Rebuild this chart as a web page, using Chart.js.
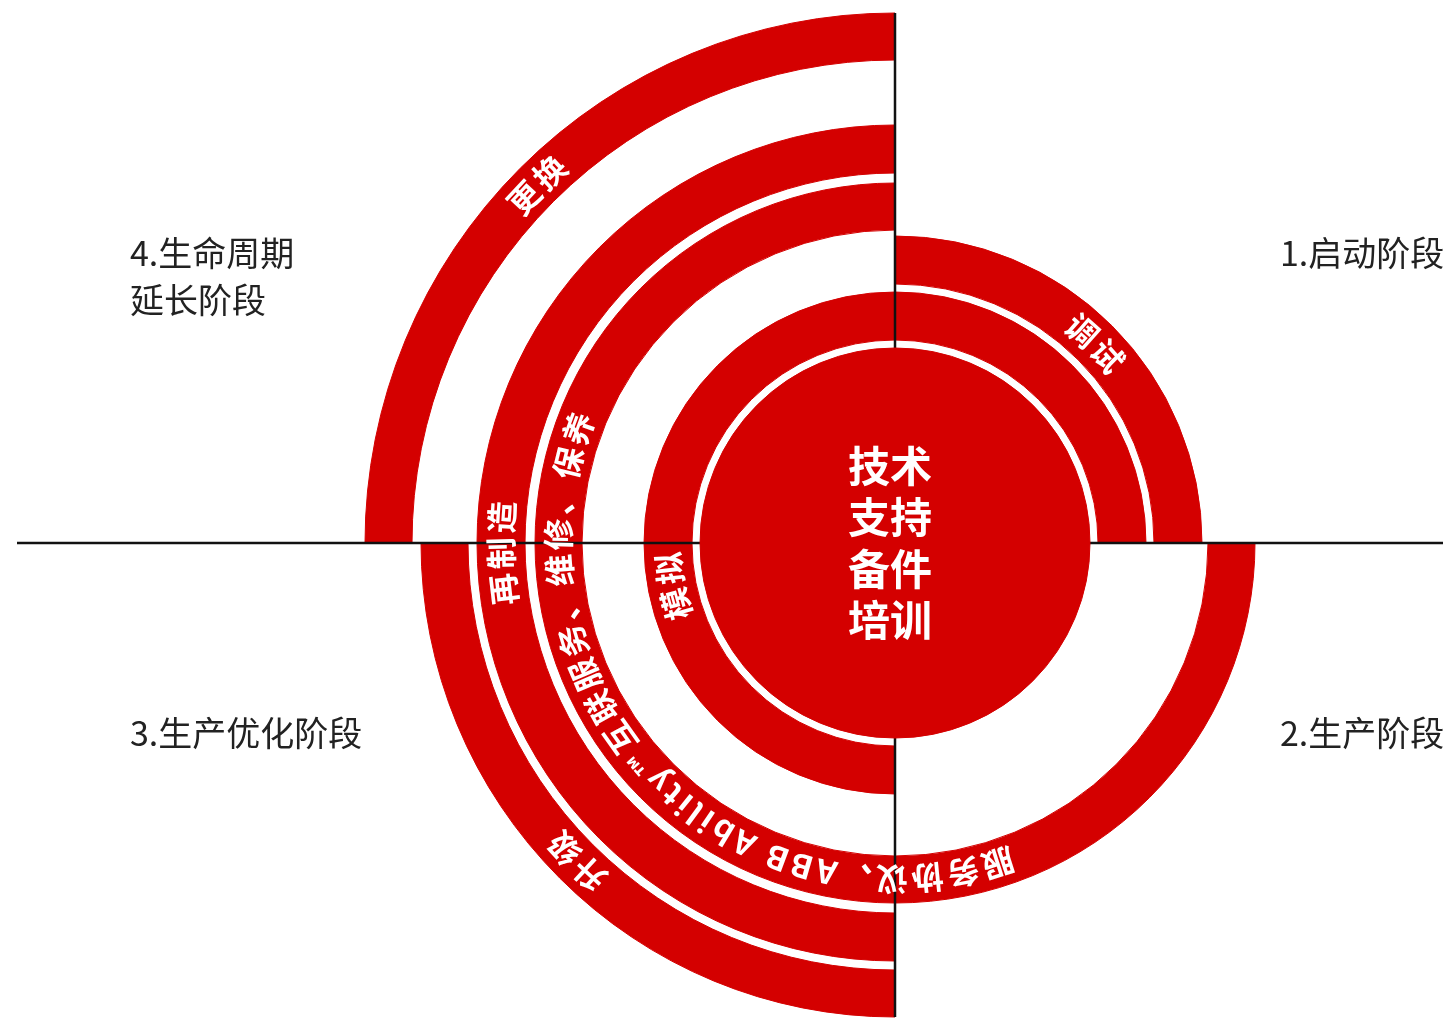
<!DOCTYPE html>
<html><head><meta charset="utf-8">
<script src="https://cdn.jsdelivr.net/npm/chart.js@4.4.1/dist/chart.umd.min.js"></script>
<style>html,body{margin:0;padding:0;background:#fff;}canvas{display:block;}</style>
</head><body>
<canvas id="c" width="1443" height="1019"></canvas>
<script>
// ---- data ----
const stages = ['1.启动阶段', '2.生产阶段', '3.生产优化阶段', '4.生命周期\n延长阶段'];
const stageShare = [1, 1, 1, 1];               // each lifecycle stage = one quarter, clockwise from 12 o'clock
const ringLabels = ['更换', '升级', '再制造', '服务协议、ABB Ability™互联服务、维修、保养', '调试', '模拟', '技术\n支持\n备件\n培训'];
const coverReplace   = [0, 0, 0, 1];
const coverUpgrade   = [0, 0, 1, 0];
const coverReman     = [0, 0, 1, 1];
const coverService   = [0, 1, 1, 1];
const coverCommission= [1, 0, 0, 0];
const coverSimulation= [1, 0, 1, 1];
const coverSupport   = [1, 1, 1, 1];

// ---- style / layout ----
const RED = '#D40000';
const CLEAR = 'rgba(0,0,0,0)';
const FONT = '"Noto Sans CJK SC", "Noto Sans", sans-serif';
const colorsFor = c => c.map(v => v ? RED : CLEAR);

// rings from outside to inside (weights = pixel thickness)
const rings = [
  { label: ringLabels[0], cover: coverReplace,    weight: 47, angle: 315 },
  { gap: 9 },
  { label: ringLabels[1], cover: coverUpgrade,    weight: 47, angle: 225 },
  { gap: 9 },
  { label: ringLabels[2], cover: coverReman,      weight: 48, angle: 268.5 },
  { gap: 10 },
  { label: ringLabels[3], cover: coverService,    weight: 47, angle: 226 },
  { gap: 6 },
  { label: ringLabels[4], cover: coverCommission, weight: 48, angle: 45 },
  { gap: 8 },
  { label: ringLabels[5], cover: coverSimulation, weight: 48, angle: 259 },
  { gap: 8 },
  { label: ringLabels[6], cover: coverSupport,    weight: 195, center: true }
];
const DISC = rings.length - 1;

const datasets = rings.map((r, i) => r.gap ? {
  data: stageShare, backgroundColor: CLEAR, borderWidth: 0, weight: r.gap, clip: false
} : {
  label: r.label, data: stageShare, backgroundColor: colorsFor(r.cover), borderColor: colorsFor(r.cover),
  borderWidth: 1, weight: r.weight, clip: false, order: i === DISC ? -1 : 0
});

function drawArcText(ctx, text, cx, cy, R, angleDeg, font, spacing) {
  ctx.save();
  ctx.font = font;
  ctx.fillStyle = '#fff';
  ctx.textAlign = 'center';
  ctx.textBaseline = 'middle';
  const chars = Array.from(text);
  const widths = chars.map(ch => ctx.measureText(ch).width);
  const total = widths.reduce((s, w) => s + w, 0) + spacing * (chars.length - 1);
  let pos = -total / 2;
  const a0 = angleDeg * Math.PI / 180;
  chars.forEach((ch, i) => {
    const mid = pos + widths[i] / 2;
    const th = a0 + mid / R;
    ctx.save();
    ctx.translate(cx + R * Math.sin(th), cy - R * Math.cos(th));
    ctx.rotate(th);
    if (ch === '™') { ctx.font = font.replace(/\d+px/, m => Math.round(parseInt(m) * 0.8) + 'px'); }
    ctx.fillText(ch, 0, 0);
    ctx.restore();
    pos += widths[i] + spacing;
  });
  ctx.restore();
}

const decor = {
  id: 'decor',
  beforeDatasetDraw(chart, args) {
    if (args.index !== DISC) return;
    const disc = chart.getDatasetMeta(DISC).data[0];
    const cx = disc.x, cy = disc.y;
    const top = chart.getDatasetMeta(0).data[0].outerRadius;
    const bottom = chart.getDatasetMeta(2).data[0].outerRadius;
    const ctx = chart.ctx;
    ctx.save();
    ctx.strokeStyle = '#111';
    ctx.lineWidth = 2.5;
    ctx.beginPath();
    ctx.moveTo(17, cy); ctx.lineTo(chart.width, cy);
    ctx.moveTo(cx, cy - top); ctx.lineTo(cx, cy + bottom);
    ctx.stroke();
    ctx.restore();
  },
  afterDatasetsDraw(chart) {
    const ctx = chart.ctx;
    const disc = chart.getDatasetMeta(DISC).data[0];
    const cx = disc.x, cy = disc.y;
    rings.forEach((r, i) => {
      if (r.gap) return;
      const arc = chart.getDatasetMeta(i).data[0];
      if (r.center) {
        ctx.save();
        ctx.fillStyle = '#fff';
        ctx.font = 'bold 42px ' + FONT;
        ctx.textAlign = 'center';
        ctx.textBaseline = 'middle';
        const lines = r.label.split('\n');
        lines.forEach((ln, k) => ctx.fillText(ln, cx - 5, cy + (k - (lines.length - 1) / 2) * 51.5));
        ctx.restore();
      } else {
        const R = (arc.innerRadius + arc.outerRadius) / 2;
        drawArcText(ctx, r.label, cx, cy, R, r.angle, 'bold 32px ' + FONT, 4);
      }
    });
    // stage labels
    const pos = [[385, -290], [385, 190], [-765, 190], [-765, -290]];
    ctx.save();
    ctx.fillStyle = '#222';
    ctx.font = '34px ' + FONT;
    ctx.textAlign = 'left';
    ctx.textBaseline = 'middle';
    stages.forEach((s, k) => {
      s.split('\n').forEach((ln, j) => ctx.fillText(ln, cx + pos[k][0], cy + pos[k][1] + j * 47));
    });
    ctx.restore();
  }
};

new Chart(document.getElementById('c'), {
  type: 'doughnut',
  data: { labels: stages, datasets },
  options: {
    responsive: false,
    animation: false,
    events: [],
    layout: { padding: { left: 347, top: 67, right: 0, bottom: 0 } },
    cutout: 0,
    radius: 530,
    plugins: { legend: { display: false }, tooltip: { enabled: false } }
  },
  plugins: [decor]
});
</script>
</body></html>
